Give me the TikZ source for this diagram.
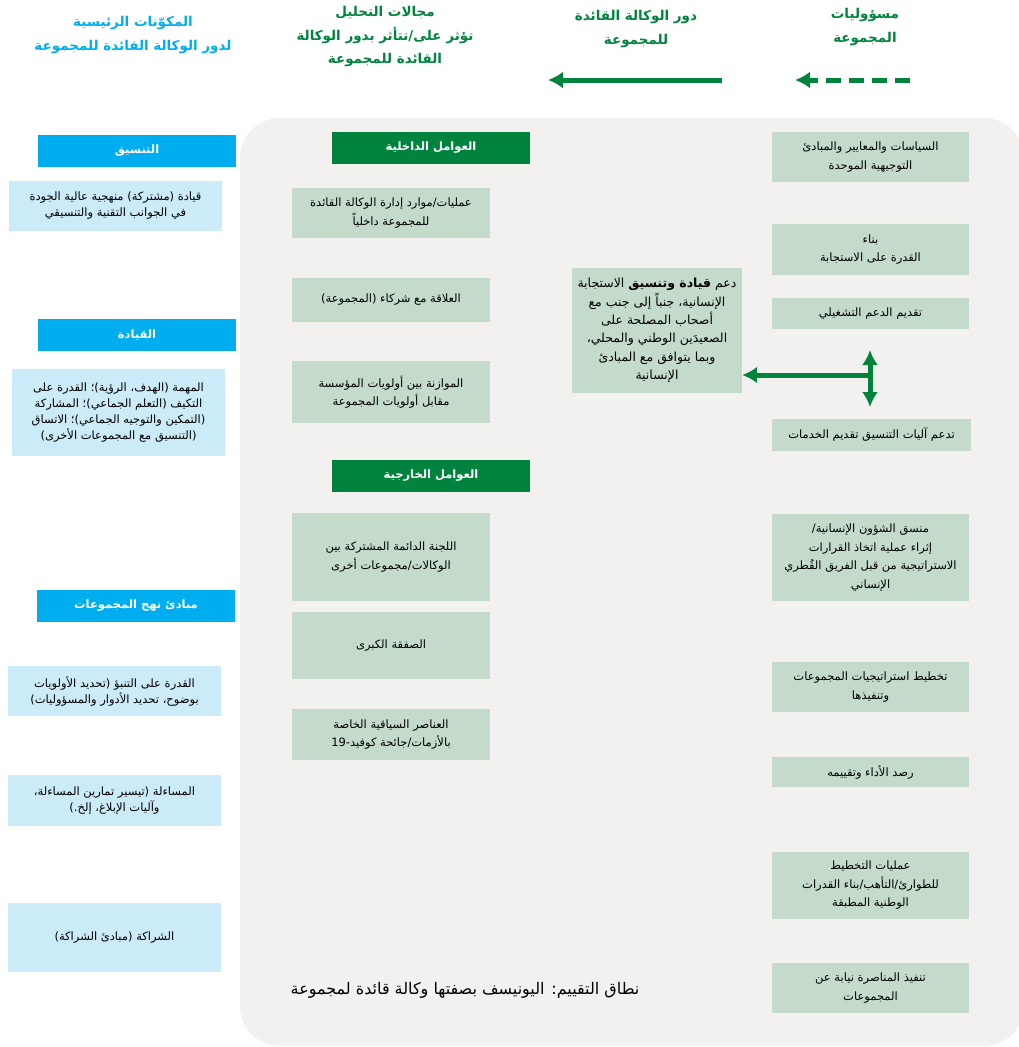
\documentclass[tikz,border=0pt]{standalone}
\usepackage{fontspec}
\setmainfont{DejaVu Sans}
\newfontfamily\arabicfont[Script=Arabic]{DejaVu Sans}
\TeXXeTstate=1
\usepackage{tikz}
\usetikzlibrary{arrows.meta}
\tikzset{>={Latex[width=17pt,length=15pt]}}

\definecolor{cblue}{HTML}{00AEEF}
\definecolor{cbluelt}{HTML}{CCEBF8}
\definecolor{cgreen}{HTML}{00843D}
\definecolor{cgreenlt}{HTML}{C4DBCC}
\definecolor{cgray}{HTML}{F2F1EF}

\newcommand\ar[1]{{\arabicfont\beginR #1\endR}}

\tikzset{
  hdrblue/.style={fill=cblue, text=white, font=\bfseries\fontsize{11.5}{14}\selectfont,
    minimum width=198pt, minimum height=32pt, inner sep=0pt},
  hdrgreen/.style={hdrblue, fill=cgreen},
  lbox/.style={fill=cbluelt, align=center, font=\fontsize{11.5}{16}\selectfont,
    minimum width=213pt, inner sep=0pt},
  gbox/.style={lbox, fill=cgreenlt, minimum width=198pt,
    font=\fontsize{11.5}{18.5}\selectfont},
  toptext/.style={align=center, font=\bfseries\fontsize{13.5}{23.5}\selectfont},
  arw/.style={->, cgreen, line width=5pt}
}

\begin{document}
\begin{tikzpicture}[x=1pt, y=-1pt]
  \useasboundingbox (0,0) rectangle (1018,1047);

  % background panel
  \fill[cgray, rounded corners=40pt] (240,118) rectangle (1024,1046);

  %% column titles
  \node[toptext, text=cblue] (ttlcomp) at (133,35)
    {\ar{المكوّنات الرئيسية}\\\ar{لدور الوكالة القائدة للمجموعة}};
  \node[toptext, text=cgreen] (ttlarea) at (385,37)
    {\ar{مجالات التحليل}\\\ar{تؤثر على/تتأثر بدور الوكالة}\\\ar{القائدة للمجموعة}};
  \node[toptext, text=cgreen] (ttlrole) at (636,29)
    {\ar{دور الوكالة القائدة}\\\ar{للمجموعة}};
  \node[toptext, text=cgreen] (ttlresp) at (865,27)
    {\ar{مسؤوليات}\\\ar{المجموعة}};

  \coordinate (rolea) at (722,80);
  \coordinate (roleb) at (548,80);
  \coordinate (respa) at (910,80);
  \coordinate (respb) at (795,80);
  \draw[arw] (rolea) -- (roleb);
  \draw[arw, dash pattern=on 15pt off 8pt] (respa) -- (respb);

  %% left column
  \node[hdrblue] (coord) at (137,151) {\ar{التنسيق}};
  \node[lbox, minimum height=50pt] (coordtxt) at (115.5,206)
    {\ar{قيادة (مشتركة) منهجية عالية الجودة}\\\ar{في الجوانب التقنية والتنسيقي}};
  \node[hdrblue] (lead) at (137,335) {\ar{القيادة}};
  \node[lbox, minimum height=87pt] (leadtxt) at (118.5,412.5)
    {\ar{المهمة (الهدف، الرؤية)؛ القدرة على}\\\ar{التكيف (التعلم الجماعي)؛ المشاركة}\\
     \ar{(التمكين والتوجيه الجماعي)؛ الاتساق}\\\ar{(التنسيق مع المجموعات الأخرى)}};
  \node[hdrblue] (princ) at (136,606) {\ar{مبادئ نهج المجموعات}};
  \node[lbox, minimum height=50pt] (predict) at (114.5,691)
    {\ar{القدرة على التنبؤ (تحديد الأولويات}\\\ar{بوضوح، تحديد الأدوار والمسؤوليات)}};
  \node[lbox, minimum height=51pt] (account) at (114.5,800.5)
    {\ar{المساءلة (تيسير تمارين المساءلة،}\\\ar{وآليات الإبلاغ، إلخ.)}};
  \node[lbox, minimum height=69pt] (partner) at (114.5,937.5)
    {\ar{الشراكة (مبادئ الشراكة)}};

  %% middle column
  \node[hdrgreen] (internal) at (431,148) {\ar{العوامل الداخلية}};
  \node[gbox, minimum height=50pt] (intops) at (391,213)
    {\ar{عمليات/موارد إدارة الوكالة القائدة}\\\ar{للمجموعة داخلياً}};
  \node[gbox, minimum height=44pt] (intrel) at (391,300)
    {\ar{العلاقة مع شركاء (المجموعة)}};
  \node[gbox, minimum height=62pt] (intbal) at (391,392)
    {\ar{الموازنة بين أولويات المؤسسة}\\\ar{مقابل أولويات المجموعة}};
  \node[hdrgreen] (external) at (431,476) {\ar{العوامل الخارجية}};
  \node[gbox, minimum height=88pt] (extiasc) at (391,557)
    {\ar{اللجنة الدائمة المشتركة بين}\\\ar{الوكالات/مجموعات أخرى}};
  \node[gbox, minimum height=67pt] (extdeal) at (391,645.5)
    {\ar{الصفقة الكبرى}};
  \node[gbox, minimum height=51pt] (extcris) at (391,734.5)
    {\ar{العناصر السياقية الخاصة}\\\ar{بالأزمات/جائحة كوفيد-19}};

  %% role box
  \node[gbox, minimum width=170pt, minimum height=125pt,
    font=\fontsize{12.5}{18.4}\selectfont] (role) at (657,330.5)
    {\ar{دعم \textbf{قيادة وتنسيق} الاستجابة}\\\ar{الإنسانية، جنباً إلى جنب مع}\\
     \ar{أصحاب المصلحة على}\\\ar{الصعيدَين الوطني والمحلي،}\\
     \ar{وبما يتوافق مع المبادئ}\\\ar{الإنسانية}};

  %% right column
  \node[gbox, minimum width=197pt, minimum height=50pt] (policy) at (870.5,157)
    {\ar{السياسات والمعايير والمبادئ}\\\ar{التوجيهية الموحدة}};
  \node[gbox, minimum width=197pt, minimum height=51pt] (capac) at (870.5,249.5)
    {\ar{بناء}\\\ar{القدرة على الاستجابة}};
  \node[gbox, minimum width=197pt, minimum height=31pt] (opsup) at (870.5,313.5)
    {\ar{تقديم الدعم التشغيلي}};
  \node[gbox, minimum width=199pt, minimum height=32pt] (mechs) at (871.5,435)
    {\ar{تدعم آليات التنسيق تقديم الخدمات}};
  \node[gbox, minimum width=197pt, minimum height=87pt] (hcoord) at (870.5,557.5)
    {\ar{منسق الشؤون الإنسانية/}\\\ar{إثراء عملية اتخاذ القرارات}\\
     \ar{الاستراتيجية من قبل الفريق القُطري}\\\ar{الإنساني}};
  \node[gbox, minimum width=197pt, minimum height=50pt] (strat) at (870.5,687)
    {\ar{تخطيط استراتيجيات المجموعات}\\\ar{وتنفيذها}};
  \node[gbox, minimum width=197pt, minimum height=30pt] (monit) at (870.5,772)
    {\ar{رصد الأداء وتقييمه}};
  \node[gbox, minimum width=197pt, minimum height=67pt] (prep) at (870.5,885.5)
    {\ar{عمليات التخطيط}\\\ar{للطوارئ/التأهب/بناء القدرات}\\\ar{الوطنية المطبقة}};
  \node[gbox, minimum width=197pt, minimum height=50pt] (advoc) at (870.5,988)
    {\ar{تنفيذ المناصرة نيابة عن}\\\ar{المجموعات}};

  %% support arrows
  \coordinate (vtop) at (870,350);
  \coordinate (vbot) at (870,407);
  \coordinate (vmid) at (870,375);
  \draw[arw, <->, >={Latex[width=16pt,length=15pt]}] (vtop) -- (vbot);
  \draw[arw] (vmid) -- (role.east |- vmid);

  % scope note
  \node[font=\fontsize{16}{18}\selectfont] (scope) at (465,990)
    {\ar{نطاق التقييم: اليونيسف بصفتها وكالة قائدة لمجموعة}};

\end{tikzpicture}
\end{document}
